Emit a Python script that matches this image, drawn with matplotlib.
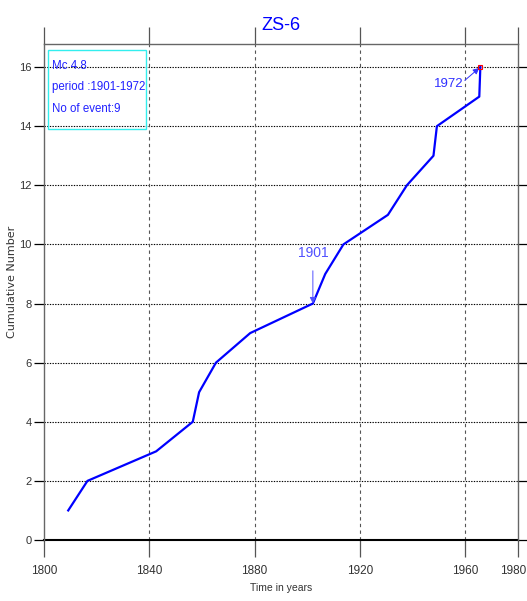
import matplotlib
matplotlib.use("Agg")
import matplotlib.pyplot as plt
from matplotlib.patches import Rectangle
from matplotlib.transforms import ScaledTranslation

years = [1809.2, 1816.5, 1842.6, 1856.5, 1858.9, 1865.3, 1878.3, 1902.1,
         1906.8, 1913.7, 1930.6, 1937.8, 1947.9, 1949.2, 1965.3, 1965.7]
counts = list(range(1, 17))
xticks = [1800, 1840, 1880, 1920, 1960, 1980]
yticks = [0, 2, 4, 6, 8, 10, 12, 14, 16]
title = "ZS-6"
info_lines = ["Mc 4.8", "period :1901-1972", "No of event:9"]

plt.rcParams['font.family'] = ["Liberation Sans", "DejaVu Sans"]

fig = plt.figure(figsize=(5.27, 6.01), dpi=100)
ax = fig.add_axes([44/527, 61/601, 474/527, 496/601])
ax.set_xlim(1800, 1980)
ax.set_ylim(0, 16.78)

# grid
for yv in yticks[1:]:
    ax.axhline(yv, color="black", lw=0.8, ls=(0, (1.2, 1.2)), zorder=1)
for xv in xticks[1:-1]:
    ax.axvline(xv, color="#555555", lw=0.8, ls=(0, (3, 3)), zorder=1)
ax.axhline(0, color="black", lw=1.5, zorder=2, clip_on=False)

ax.plot(years, counts, color="#0000ff", lw=1.6, zorder=3)
ax.plot(years[-1:], counts[-1:], marker="s", ms=3.5, mfc="none", mec="red",
        mew=0.8, ls="none", zorder=4)

ax.annotate("1901", xy=(years[7], counts[7]), xytext=(years[7], 9.72),
            ha="center", va="center", color="#5050ff", fontsize=10,
            arrowprops=dict(arrowstyle="-|>", color="#5050ff", lw=0.7,
                            mutation_scale=9, shrinkA=6, shrinkB=0))
ax.text(1953.6, 15.42, "1972", ha="center", va="center", color="#3030ff",
        fontsize=9.5)
ax.annotate("", xy=(years[-1], counts[-1]), xytext=(1959.8, 15.55),
            arrowprops=dict(arrowstyle="-|>", color="#3030ff", lw=0.7,
                            mutation_scale=9, shrinkA=0, shrinkB=1))

# info box
ax.add_patch(Rectangle((1801.6, 13.9), 37.0, 2.67, fill=False,
                       edgecolor="#33eeee", lw=1.0, zorder=5))
for i, line in enumerate(info_lines):
    ax.text(1802.9, 16.05 - i * 0.73, line, color="#2020ff", fontsize=8.3,
            ha="left", va="center", zorder=6)

ax.set_title(title, color="#0000ff", fontsize=13, pad=10)

ax.set_xticks(xticks)
ax.set_yticks(yticks)
ax.tick_params(axis="x", direction="out", length=12, width=0.9,
               color="#555555", top=True, labelsize=8.5, labelcolor="#333333",
               pad=6)
ax.tick_params(axis="y", direction="out", length=7, width=0.9,
               color="black", right=True, labelsize=8, labelcolor="#333333",
               pad=2)
for s in ax.spines.values():
    s.set_color("#666666")
    s.set_linewidth(1.0)
ax.spines["bottom"].set_visible(False)

# keep the last x tick label inside the figure
lbl = ax.get_xticklabels()[-1]
lbl.set_transform(lbl.get_transform() + ScaledTranslation(-5/100, 0, fig.dpi_scale_trans))

ax.set_xlabel("Time in years", fontsize=7.5, color="#333333", labelpad=4)
ax.set_ylabel("Cumulative Number", fontsize=8, color="#333333",
              family=["DejaVu Sans"])
ax.yaxis.set_label_coords(-0.056, 0.52)

fig.savefig("out.png", dpi=100)
